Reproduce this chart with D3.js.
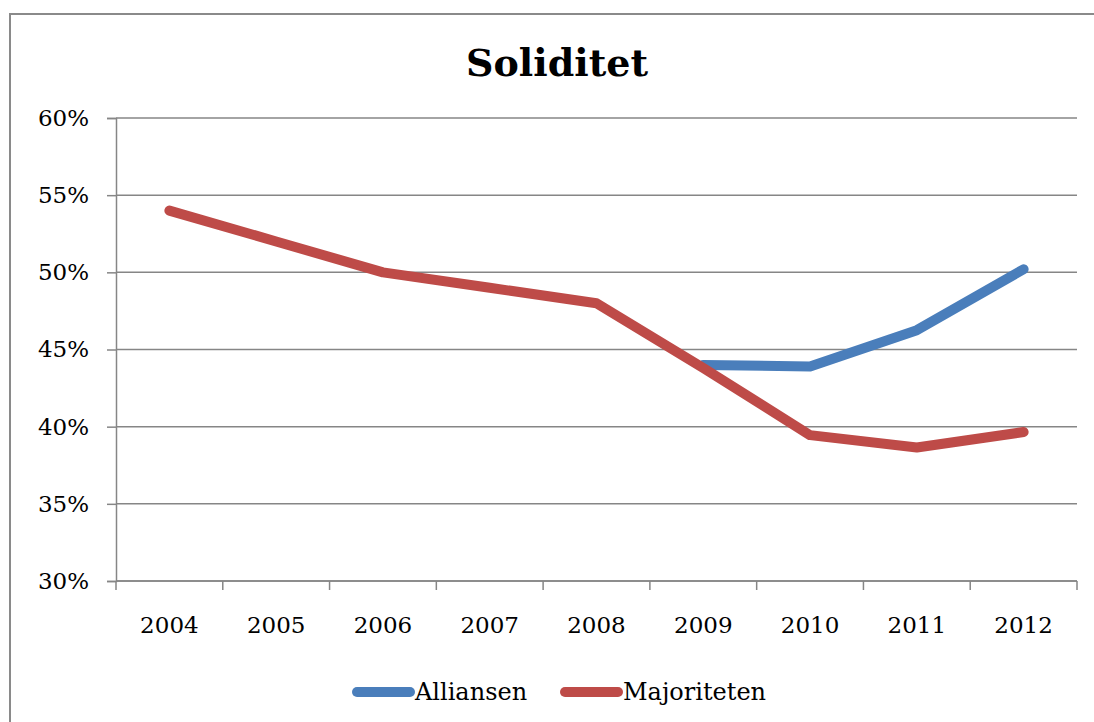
<!DOCTYPE html>
<html>
<head>
<meta charset="utf-8">
<script src="https://cdn.jsdelivr.net/npm/d3@7"></script>
<style>
  body { margin: 0; background: #fff; }
  text { font-family: "DejaVu Serif", "Liberation Serif", serif; fill: #000; }
</style>
</head>
<body>
<div id="chart"></div>
<script>
var width = 1094,
    height = 722;

// data
var years = ["2004", "2005", "2006", "2007", "2008", "2009", "2010", "2011", "2012"];
var alliansen = [null, null, null, null, null, 44.0, 43.9, 46.25, 50.2];
var majoriteten = [54.0, 52.0, 50.0, 49.0, 48.0, 43.8, 39.45, 38.65, 39.65];
var yTicks = [30, 35, 40, 45, 50, 55, 60];

var series = [
  { name: "Alliansen", color: "#4A7EBB", values: alliansen },
  { name: "Majoriteten", color: "#BE4B48", values: majoriteten }
];

var plot = { left: 116, right: 1077, top: 118, bottom: 581 };

var svg = d3.select("#chart").append("svg")
    .attr("width", width)
    .attr("height", height);

// outer frame (runs off the right and bottom edges)
svg.append("rect")
    .attr("x", 10)
    .attr("y", 14)
    .attr("width", 1100)
    .attr("height", 730)
    .attr("fill", "none")
    .attr("stroke", "#8a8a8a")
    .attr("stroke-width", 2);

var x = d3.scaleBand()
    .domain(years)
    .range([plot.left, plot.right]);

var y = d3.scaleLinear()
    .domain([30, 60])
    .range([plot.bottom, plot.top]);

// title
svg.append("text")
    .attr("x", 557)
    .attr("y", 76)
    .attr("text-anchor", "middle")
    .style("font-size", "38px")
    .style("font-weight", "bold")
    .text("Soliditet");

// horizontal gridlines
svg.append("g")
    .selectAll("line")
    .data(yTicks)
    .enter()
    .append("line")
    .attr("x1", plot.left)
    .attr("x2", plot.right)
    .attr("y1", function (d) { return y(d); })
    .attr("y2", function (d) { return y(d); })
    .attr("stroke", "#868686")
    .attr("stroke-width", 1.5);

// y axis
var yAxis = svg.append("g")
    .attr("transform", "translate(" + plot.left + ",0)")
    .call(d3.axisLeft(y)
        .tickValues(yTicks)
        .tickSize(9)
        .tickPadding(18)
        .tickFormat(function (d) { return d + "%"; }));
yAxis.select(".domain").attr("stroke", "#868686").attr("stroke-width", 1.5);
yAxis.selectAll(".tick line").attr("stroke", "#868686").attr("stroke-width", 1.5);
yAxis.selectAll(".tick text")
    .style("font-size", "23px")
    .style("font-family", "'DejaVu Serif', serif")
    .attr("fill", "#000");

// x axis, ticks at category boundaries
var xAxis = svg.append("g")
    .attr("transform", "translate(0," + plot.bottom + ")");
xAxis.append("line")
    .attr("x1", plot.left)
    .attr("x2", plot.right)
    .attr("stroke", "#868686")
    .attr("stroke-width", 1.5);
xAxis.selectAll(".tickmark")
    .data(years.concat(["end"]))
    .enter()
    .append("line")
    .attr("class", "tickmark")
    .attr("x1", function (d, i) { return plot.left + i * x.bandwidth(); })
    .attr("x2", function (d, i) { return plot.left + i * x.bandwidth(); })
    .attr("y1", 0)
    .attr("y2", 9)
    .attr("stroke", "#868686")
    .attr("stroke-width", 1.5);
xAxis.selectAll(".label")
    .data(years)
    .enter()
    .append("text")
    .attr("class", "label")
    .attr("x", function (d) { return x(d) + x.bandwidth() / 2; })
    .attr("y", 52)
    .attr("text-anchor", "middle")
    .style("font-size", "23px")
    .text(function (d) { return d; });

// lines
var line = d3.line()
    .defined(function (d) { return d != null; })
    .x(function (d, i) { return x(years[i]) + x.bandwidth() / 2; })
    .y(function (d) { return y(d); });

svg.append("g")
    .selectAll("path")
    .data(series)
    .enter()
    .append("path")
    .attr("d", function (s) { return line(s.values); })
    .attr("fill", "none")
    .attr("stroke", function (s) { return s.color; })
    .attr("stroke-width", 10)
    .attr("stroke-linecap", "round")
    .attr("stroke-linejoin", "round");

// legend
var legendX = [357, 565];
var legend = svg.append("g")
    .selectAll("g")
    .data(series)
    .enter()
    .append("g")
    .attr("transform", function (s, i) { return "translate(" + legendX[i] + ",692)"; });
legend.append("line")
    .attr("x1", 0)
    .attr("x2", 53)
    .attr("stroke", function (s) { return s.color; })
    .attr("stroke-width", 10)
    .attr("stroke-linecap", "round");
legend.append("text")
    .attr("x", 58)
    .attr("y", 8)
    .style("font-size", "24px")
    .text(function (s) { return s.name; });
</script>
</body>
</html>
